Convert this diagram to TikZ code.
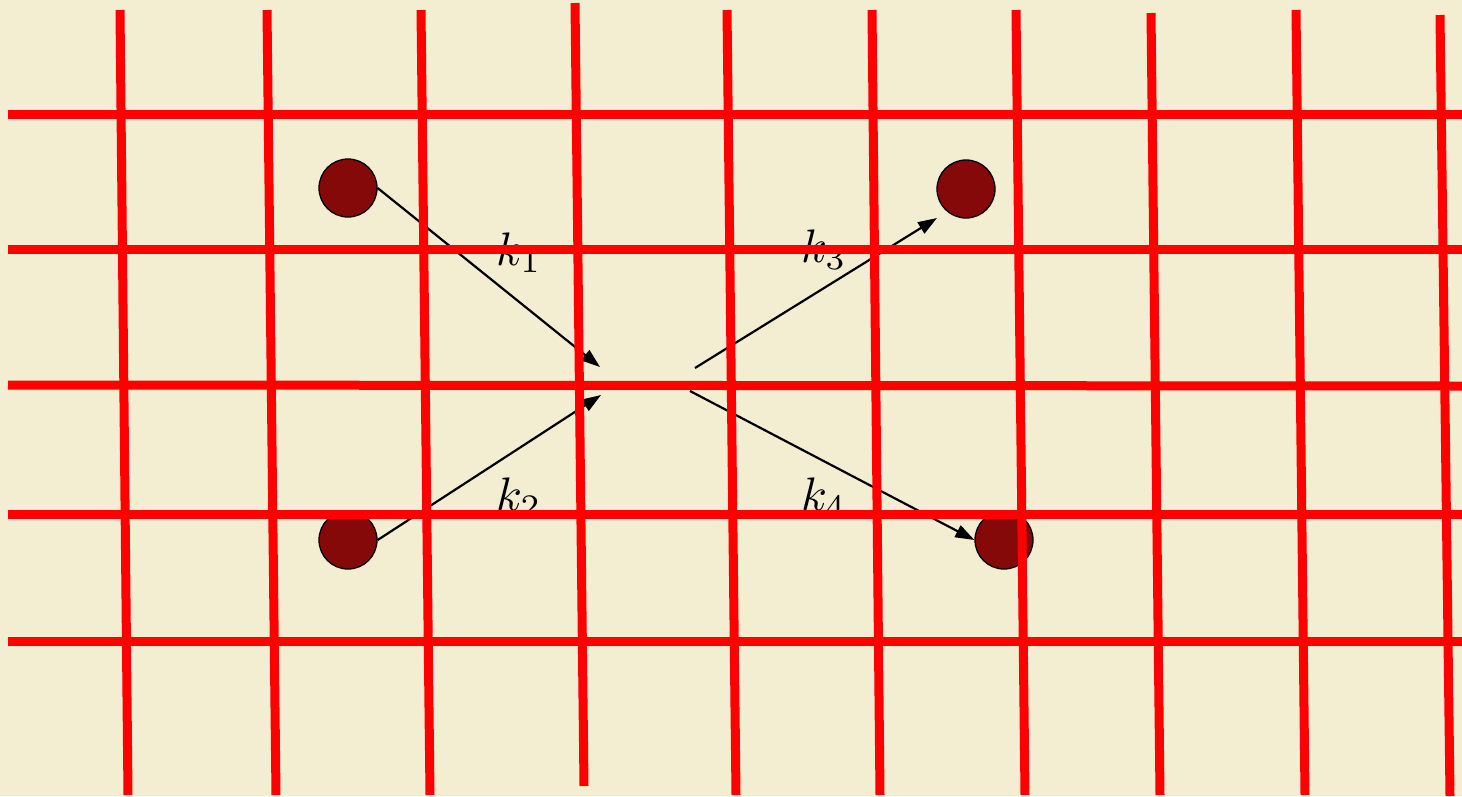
\documentclass[tikz,border=0pt]{standalone}
\usetikzlibrary{arrows.meta}
\definecolor{paper}{HTML}{F3EDD2}
\definecolor{grid}{HTML}{FF0000}
\definecolor{ball}{HTML}{850909}
\begin{document}
\begin{tikzpicture}[x=1pt,y=-1pt,
  gridline/.style={draw=grid,line width=9pt},
  particle/.style={circle,draw=black,line width=1.3pt,fill=ball,minimum size=58pt,inner sep=0pt},
  mom/.style={draw=black,line width=2.2pt,-{Triangle[length=19pt,width=13pt]}},
  klabel/.style={inner sep=0pt,scale=4.7}]
\fill[paper] (0,0) rectangle (1462,796);
\useasboundingbox (0,0) rectangle (1462,796);
% particles
\node[particle] (c1) at (348,188) {};
\node[particle] (c2) at (348,540) {};
\node[particle] (c3) at (966,189) {};
\node[particle] (c4) at (1004,540) {};
\coordinate (t1) at (600,367);
\coordinate (t2) at (601,395);
\coordinate (s3) at (695,368);
\coordinate (t3) at (937,218);
\coordinate (s4) at (690,391);
% momenta
\draw[mom] (c1.east) -- (t1);
\draw[mom] (c2.east) -- (t2);
\draw[mom] (s3) -- (t3);
\draw[mom] (s4) -- (c4.west);
\node[klabel] (k1) at (519,253) {$k_1$};
\node[klabel] (k2) at (519,498) {$k_2$};
\node[klabel] (k3) at (824,250) {$k_3$};
\node[klabel] (k4) at (824,498) {$k_4$};
% grid on top
\foreach \y/\yy in {114/114,249/249,385/386,514/514,641/641}
  \draw[gridline] (8,\y) -- (1462,\yy);
\foreach \xa/\ya/\xb/\yb in {120/10/128/795, 267/10/276/795, 421/10/430/795, 575/3/584/786, 727/10/736/795, 872/10/880/795, 1016/10/1025/795, 1151/13/1160/795, 1296/10/1305/795, 1440/15/1450/796}
  \draw[gridline] (\xa,\ya) -- (\xb,\yb);
\end{tikzpicture}
\end{document}
